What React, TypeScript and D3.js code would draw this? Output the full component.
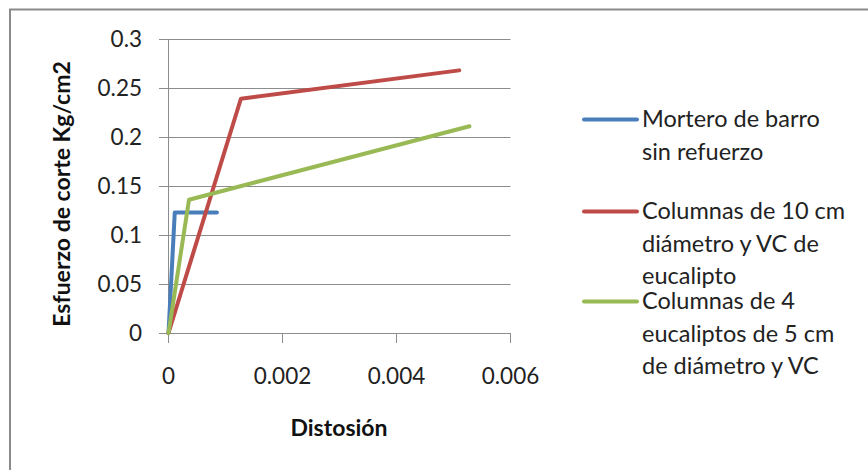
import React from "react";
import * as d3 from "d3";

const WIDTH = 868;
const HEIGHT = 470;

// Distosión (x) / Esfuerzo de corte (y) for each series
const morteroX = [0, 0.00011, 0.00085];
const morteroY = [0, 0.123, 0.123];
const col10X = [0, 0.00127, 0.0051];
const col10Y = [0, 0.239, 0.268];
const col4X = [0, 0.00036, 0.00528];
const col4Y = [0, 0.136, 0.211];

const xTicks = [0, 0.002, 0.004, 0.006];
const yTicks = [0, 0.05, 0.1, 0.15, 0.2, 0.25, 0.3];
const xTickLabels = ["0", "0.002", "0.004", "0.006"];
const yTickLabels = ["0", "0.05", "0.1", "0.15", "0.2", "0.25", "0.3"];

const seriesNames = [
  ["Mortero de barro", "sin refuerzo"],
  ["Columnas de 10 cm", "diámetro y VC de", "eucalipto"],
  ["Columnas de 4", "eucaliptos de 5 cm", "de diámetro y VC"],
];
const COLORS = ["#4A7EBB", "#BE4B48", "#98B954"];

const FONT = "Lato, 'Open Sans', sans-serif";

export default function App() {
  const x = d3.scaleLinear().domain([0, 0.006]).range([168.5, 510.5]);
  const y = d3.scaleLinear().domain([0, 0.3]).range([333, 39]);

  const line = d3
    .line<[number, number]>()
    .x((d) => x(d[0]))
    .y((d) => y(d[1]));

  const series = [
    d3.zip(morteroX, morteroY) as [number, number][],
    d3.zip(col10X, col10Y) as [number, number][],
    d3.zip(col4X, col4Y) as [number, number][],
  ];

  // legend rows: line center y for each entry
  const legendY = [119.5, 211.5, 301.5];
  const lineStep = 32.5;

  return (
    <svg
      width={WIDTH}
      height={HEIGHT}
      style={{ position: "absolute", left: 0, top: 0, background: "#fff" }}
      fontFamily={FONT}
    >
      {/* chart frame */}
      <rect x={10} y={9.5} width={880} height={480} fill="#fff" stroke="#8a8a8a" strokeWidth={2} />

      {/* gridlines */}
      {yTicks.map((t) => (
        <line
          key={"g" + t}
          x1={159}
          x2={x(0.006)}
          y1={Math.round(y(t)) + 0.5}
          y2={Math.round(y(t)) + 0.5}
          stroke="#8c8c8c"
          strokeWidth={1}
        />
      ))}
      {/* y axis */}
      <line x1={x(0)} x2={x(0)} y1={y(0.3)} y2={y(0) + 10} stroke="#8c8c8c" />
      {/* x ticks */}
      {xTicks.map((t) => (
        <line key={"xt" + t} x1={x(t)} x2={x(t)} y1={y(0)} y2={y(0) + 10} stroke="#8c8c8c" />
      ))}

      {/* tick labels */}
      {yTicks.map((t, i) => (
        <text
          key={"yl" + t}
          x={142}
          y={y(t)}
          dy="0.36em"
          textAnchor="end"
          fontSize={22.5}
          fill="#222"
        >
          {yTickLabels[i]}
        </text>
      ))}
      {xTicks.map((t, i) => (
        <text key={"xl" + t} x={x(t)} y={384} textAnchor="middle" fontSize={22.5} fill="#222">
          {xTickLabels[i]}
        </text>
      ))}

      {/* axis titles */}
      <text
        transform={`translate(70,194) rotate(-90)`}
        textAnchor="middle"
        fontSize={23}
        fontWeight="bold"
        fill="#111"
      >
        Esfuerzo de corte Kg/cm2
      </text>
      <text x={339} y={436} textAnchor="middle" fontSize={23} fontWeight="bold" fill="#111">
        Distosión
      </text>

      {/* series */}
      {series.map((s, i) => (
        <path
          key={"s" + i}
          d={line(s) || ""}
          fill="none"
          stroke={COLORS[i]}
          strokeWidth={4}
          strokeLinejoin="round"
          strokeLinecap="round"
        />
      ))}

      {/* legend */}
      {seriesNames.map((lines, i) => (
        <g key={"lg" + i}>
          <line
            x1={584}
            x2={637}
            y1={legendY[i]}
            y2={legendY[i]}
            stroke={COLORS[i]}
            strokeWidth={4}
            strokeLinecap="round"
          />
          {lines.map((l, j) => (
            <text key={j} x={642} y={legendY[i] + 7.5 + j * lineStep} fontSize={23.5} fill="#222">
              {l}
            </text>
          ))}
        </g>
      ))}
    </svg>
  );
}
